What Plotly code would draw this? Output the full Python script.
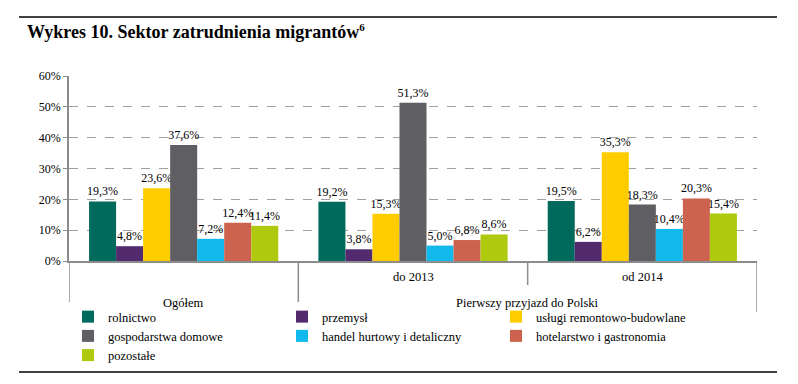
import plotly.graph_objects as go

categories = ["Ogółem", "do 2013", "od 2014"]
parent_label = "Pierwszy przyjazd do Polski"
series_names = [
    "rolnictwo",
    "przemysł",
    "usługi remontowo-budowlane",
    "gospodarstwa domowe",
    "handel hurtowy i detaliczny",
    "hotelarstwo i gastronomia",
    "pozostałe",
]
rolnictwo = [19.3, 19.2, 19.5]
przemysl = [4.8, 3.8, 6.2]
uslugi = [23.6, 15.3, 35.3]
gospodarstwa = [37.6, 51.3, 18.3]
handel = [7.2, 5.0, 10.4]
hotelarstwo = [12.4, 6.8, 20.3]
pozostale = [11.4, 8.6, 15.4]
series_values = [rolnictwo, przemysl, uslugi, gospodarstwa, handel, hotelarstwo, pozostale]
colors = ["#006A5D", "#542A6E", "#FFCC00", "#5F5F63", "#12B9EC", "#CD634E", "#AEC90E"]
y_ticks = [0, 10, 20, 30, 40, 50, 60]
y_tick_labels = ["0%", "10%", "20%", "30%", "40%", "50%", "60%"]
title_text = "Wykres 10. Sektor zatrudnienia migrantów<sup><span style='font-size:11px'>6</span></sup>"

SERIF = "Liberation Serif"
# page body has an 8px margin; figure sized to fill the rest of the 798x384 window
OFF = 8
W, H = 798 - OFF, 384 - OFF
ML, MR, MT, MB = 69 - OFF, 41, 76 - OFF, 123
PH = 261 - 76
PW = 757 - 69

def py(pix):  # screen y -> paper
    return (261 - pix) / PH

def px(pix):  # screen x -> paper
    return (pix - 69) / PW

fig = go.Figure()
for name, vals, col in zip(series_names, series_values, colors):
    fig.add_trace(go.Bar(
        x=categories, y=vals, name=name,
        marker=dict(color=col, line=dict(width=0)),
        text=vals, texttemplate="%{y:.1f}%", textposition="outside",
        textfont=dict(family=SERIF, size=12, color="#000"),
        constraintext="none", cliponaxis=False,
    ))

shapes = []
axis_col = "#8C8C8C"
for xv, ybot in [(-0.5, 312), (0.5, 312), (1.5, 285), (2.5, 312)]:
    shapes.append(dict(type="line", xref="x", yref="paper", x0=xv, x1=xv,
                       y0=0, y1=py(ybot), line=dict(color=axis_col, width=1.5)))
for yy in [17, 372]:
    shapes.append(dict(type="line", xref="paper", yref="paper",
                       x0=px(19), x1=px(777),
                       y0=py(yy), y1=py(yy), line=dict(color="#000", width=1.5)))

lab_font = dict(family=SERIF, size=12.5, color="#000")
annotations = []
for c in categories[1:]:
    annotations.append(dict(x=c, y=py(277), xref="x", yref="paper", text=c,
                            showarrow=False, font=lab_font, yanchor="middle"))
annotations.append(dict(x=categories[0], y=py(303), xref="x", yref="paper", text=categories[0],
                        showarrow=False, font=lab_font, yanchor="middle"))
annotations.append(dict(x=1.5, y=py(303), xref="x", yref="paper", text=parent_label,
                        showarrow=False, font=lab_font, yanchor="middle"))

fig.update_layout(
    width=W, height=H,
    margin=dict(l=ML, r=MR, t=MT, b=MB, autoexpand=False),
    paper_bgcolor="white", plot_bgcolor="white",
    font=dict(family=SERIF, size=12, color="#000"),
    separators=",.",
    barmode="group", bargap=0.175, bargroupgap=0,
    title=dict(text=title_text, x=(27 - OFF) / W, xref="container", xanchor="left",
               y=1 - (32 - OFF) / H, yref="container", yanchor="middle",
               font=dict(family=SERIF, size=18, color="#000", weight="bold")),
    xaxis=dict(type="category", showticklabels=False, showgrid=False,
               showline=True, linecolor=axis_col, linewidth=1.5,
               ticks="", range=[-0.5, 2.5], zeroline=False),
    yaxis=dict(range=[0, 60], tickvals=y_ticks, ticktext=y_tick_labels,
               showgrid=True, gridcolor="#A0A0A0", griddash="dash", gridwidth=1,
               showline=True, linecolor=axis_col, linewidth=1.5,
               ticks="outside", ticklen=4, tickcolor=axis_col,
               tickfont=dict(family=SERIF, size=12, color="#000"),
               zeroline=False),
    legend=dict(orientation="h", x=px(68), xanchor="left",
                y=py(302), yanchor="top",
                font=dict(family=SERIF, size=12.5, color="#000"),
                entrywidth=169, entrywidthmode="pixels", itemwidth=30,
                traceorder="normal"),
    shapes=shapes, annotations=annotations,
    showlegend=True,
)

fig.write_html("out.html")
